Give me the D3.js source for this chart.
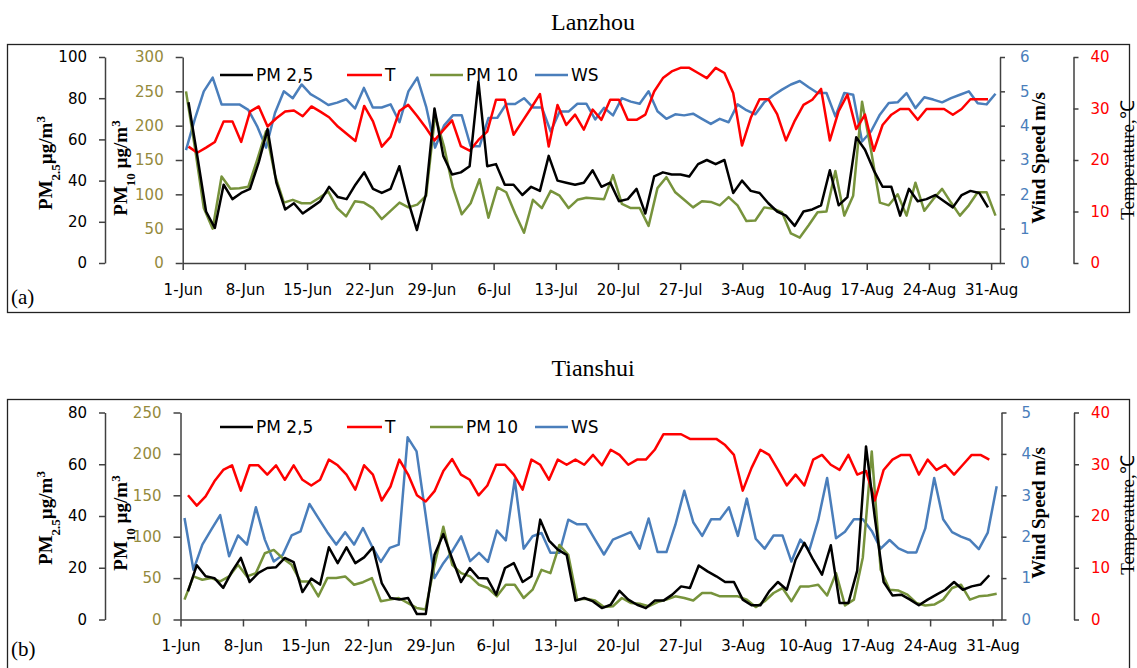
<!DOCTYPE html>
<html>
<head>
<meta charset="utf-8">
<script src="https://d3js.org/d3.v7.min.js"></script>
<style>
  body { margin: 0; background: #fff; }
  svg { display: block; }
</style>
</head>
<body>
<svg width="1137" height="668"></svg>
<script>
// ---- data (daily, 1 Jun - 31 Aug) ----
var tickLabels = ["1-Jun","8-Jun","15-Jun","22-Jun","29-Jun","6-Jul","13-Jul","20-Jul","27-Jul","3-Aug","10-Aug","17-Aug","24-Aug","31-Aug"];

var lanzhouPM25 = [78,52,25,17,38,31,34,36,49,65, 39,26,29,24,27,30,37,32,31,38, 44,36,34,36,47,30,16,33,75,52,
  43,44,47,88,47,48,38,38,33,37, 35,52,40,39,38,39,45,37,39,30, 31,36,24,42,44,43,43,42,48,50,
  48,50,34,40,35,34,29,25,23,18, 25,26,28,45,28,32,61,55,45,37, 37,23,36,30,31,33,30,27,33,35, 34,27];
var lanzhouT = [22.6,21.4,22.4,23.5,27.5,27.5,23.5,29.4,30.4,26.5, 28.1,29.4,29.6,28.5,30.4,29.4,28.3,26.5,25.1,23.7,
  30.5,27.5,22.6,24.5,29.5,30.7,28.6,26.3,23.8,25.8, 27.7,22.7,21.8,23.9,25.5,31.7,31.7,24.9,27.5,30.1,
  32.8,22.6,30.7,26.8,28.8,25.9,29.8,27.8,31.7,31.7, 27.8,27.8,28.8,33.3,35.9,37.2,37.9,37.9,36.9,35.9,
  37.9,36.9,33,22.8,28.2,31.8,31.8,28.9,23.8,27.6, 30.7,31.7,33.8,23.8,29.5,32.7,26,28.8,21.8,26.8,
  28.8,29.9,29.9,27.8,29.9,29.9,29.9,28.8,29.9,31.8, 31.8,31.8];
var lanzhouPM10 = [250,168,80,50,126,108,109,111,150,192, 128,88,92,87,87,95,104,80,68,90, 88,80,64,76,88,81,85,98,215,170,
  110,71,87,122,66,110,103,72,44,92, 80,105,98,80,92,95,94,93,128,86, 80,80,54,109,125,103,92,81,90,89,
  84,96,84,61,62,81,79,74,43,37, 55,74,75,134,69,98,235,165,88,84, 100,69,117,76,93,108,88,69,84,103, 103,69];
var lanzhouWS = [3.29,4.2,5.0,5.4,4.62,4.62,4.62,4.46,3.98,3.36, 4.37,5.0,4.8,5.2,4.92,4.77,4.6,4.67,4.77,4.5,
  5.1,4.53,4.53,4.62,4.1,5.0,5.4,4.55,3.36,4.0, 4.3,4.3,3.4,3.4,4.22,4.23,4.63,4.63,4.8,4.53,
  4.53,3.83,4.41,4.41,4.64,4.64,4.18,4.52,4.3,4.8, 4.7,4.64,5.0,4.42,4.2,4.33,4.3,4.35,4.2,4.05,
  4.2,4.1,4.62,4.45,4.33,4.68,4.88,5.05,5.2,5.3, 5.12,4.95,4.95,4.27,4.95,4.9,3.54,3.83,4.32,4.66,
  4.68,4.95,4.51,4.83,4.76,4.68,4.8,4.9,5.0,4.65, 4.62,4.93];

var tianshuiPM25 = [10.9,21,16.7,16,12.2,18.6,23.8,14.5,18,19.9, 20.2,23.8,22.2,10.6,15.8,13.5,27.9,21.8,27.9,21.8,
  24,27.9,14.1,8.3,7.7,8.3,2.1,2.1,25,33, 23.5,14.5,19.9,16,15.8,9.6,19.9,21.8,14.5,16.7,
  38.6,30.5,27,25,7.3,8.3,7,4.4,5.7,11.1, 7.7,5.7,4.4,7.3,7.3,9.6,12.8,12.2,20.9,18.6,
  16.7,14.5,14.5,7.7,5.5,5.5,10.9,14.5,11.5,23.1, 29.6,23.1,17.3,28.7,6.4,6.4,18.9,66.9,39.4,14.5,
  9.3,9.6,7.7,5.5,7.7,9.6,11.5,14.5,11.5,12.8, 13.5,17.1];
var tianshuiT = [24,22,23.8,26.7,28.9,29.8,24.9,29.8,29.8,28, 29.8,27,29.8,27,25.9,27,30.9,29.8,28,25.1,
  29.8,28,23,25.7,30.9,28,24,22.8,24.8,28.7, 31,28,27,24,25.9,29.9,29.9,28,25.1,30.9,
  29.9,27,30.9,29.9,30.9,29.9,31.8,29.8,32.8,31.8, 29.9,30.9,30.9,32.8,35.8,35.8,35.8,34.9,34.9,34.9,
  34.9,33.7,31.8,24.9,29.3,32.8,31.8,28.9,25.9,28, 25.9,30.9,31.8,29.9,28.9,31.8,28,28.7,23,28.9,
  30.9,31.8,31.8,28,30.9,28.9,29.9,28,29.9,31.8, 31.8,30.9];
var tianshuiPM10 = [24,52,48,50,46,52,66,52,56,80, 84,74,66,46,46,28,50,50,52,42, 45,50,22,24,26,20,14,12,65,112,
  66,56,52,42,38,28,42,42,26,36, 60,56,90,78,24,25,23,15,16,26, 20,19,16,21,24,28,26,23,32,32,
  28,28,28,24,15,22,32,38,22,40, 40,42,29,56,17,24,75,203,60,36, 35,30,20,17,18,24,38,42,24,28, 29,31];
var tianshuiWS = [2.45,1.2,1.81,2.17,2.52,1.53,2.03,1.81,2.71,1.93, 1.4,1.56,2.03,2.13,2.79,2.45,2.11,1.81,2.11,1.81,
  2.21,1.77,1.39,1.73,1.81,4.4,4.06,2.55,1.0,1.36, 1.65,2.01,1.41,1.61,1.39,2.15,1.91,3.38,1.71,2.01,
  2.09,1.61,1.61,2.41,2.3,2.3,1.93,1.57,1.93,2.02, 2.11,1.71,2.44,1.63,1.63,2.29,3.11,2.35,2.02,2.42,
  2.42,2.71,2.02,2.92,1.95,1.71,2.03,2.03,1.4,1.93, 1.67,2.4,3.42,1.96,2.12,2.42,2.42,2.14,1.71,1.92,
  1.72,1.62,1.62,2.2,3.42,2.42,2.11,2.0,1.92,1.7, 2.1,3.22];

// ---- styling / layout ----
var sans = "'DejaVu Sans', sans-serif";
var serif = "'Liberation Serif', 'Times New Roman', serif";
var axisColor = "#404040";
var colors = { pm25: "#000000", t: "#ff0000", pm10: "#77933c", ws: "#4a7ebb" };
var pm10TickColor = "#948a3c";

var legendItems = [
  { key: "pm25", name: "PM 2,5", x1: 220, x2: 253 },
  { key: "t", name: "T", x1: 347, x2: 382 },
  { key: "pm10", name: "PM 10", x1: 430, x2: 463 },
  { key: "ws", name: "WS", x1: 535, x2: 568 }
];

var panels = [
  { title: "Lanzhou", titleY: 30, tag: "(a)", tagY: 304, box: [7.5, 44.5, 1122, 268],
    top: 57, bottom: 263, axisRange: [182.7, 1000], rangeBR: [188.5, 988], rangeGB: [186, 995.5],
    ax25: 105, ax10: 182.7, axWS: 1000, axT: 1073.5, max25: 100, max10: 300, maxWS: 6,
    legendY: 75, midY: 160,
    pm25: lanzhouPM25, t: lanzhouT, pm10: lanzhouPM10, ws: lanzhouWS },
  { title: "Tianshui", titleY: 376, tag: "(b)", tagY: 656, box: [7.5, 399.5, 1122, 275],
    top: 412.5, bottom: 619.5, axisRange: [180.5, 1001.5], rangeBR: [188, 989.3], rangeGB: [184.5, 996.7],
    ax25: 105, ax10: 180.5, axWS: 1001.5, axT: 1074, max25: 80, max10: 250, maxWS: 5,
    legendY: 427, midY: 515,
    pm25: tianshuiPM25, t: tianshuiT, pm10: tianshuiPM10, ws: tianshuiWS }
];

var svg = d3.select("svg");
svg.append("rect").attr("width", 1137).attr("height", 668).attr("fill", "#fff");

function styleAxis(a, color, size) {
  a.select(".domain").attr("stroke", axisColor).attr("stroke-width", 1.5);
  a.selectAll(".tick line").attr("stroke", axisColor).attr("stroke-width", 1.5);
  a.selectAll(".tick text").attr("fill", color)
    .style("font-family", sans).style("font-size", size || "15px");
}

function vTitle(g, x, y, parts, weight) {
  var t = g.append("text")
    .attr("transform", "translate(" + x + "," + y + ") rotate(-90)")
    .attr("text-anchor", "middle")
    .style("font-family", serif).style("font-size", "19px").style("font-weight", weight);
  parts.forEach(function(p) {
    var s = t.append("tspan").text(p.text);
    if (p.shift) s.attr("baseline-shift", p.shift).style("font-size", "13px");
  });
}

var intFmt = d3.format("d");

panels.forEach(function(p) {
  var g = svg.append("g");

  g.append("rect").attr("x", p.box[0]).attr("y", p.box[1])
    .attr("width", p.box[2]).attr("height", p.box[3])
    .attr("fill", "none").attr("stroke", "#222").attr("stroke-width", 1.3);

  g.append("text").attr("x", 593).attr("y", p.titleY).attr("text-anchor", "middle")
    .style("font-family", serif).style("font-size", "24px").text(p.title);
  g.append("text").attr("x", 11).attr("y", p.tagY)
    .style("font-family", serif).style("font-size", "21px").text(p.tag);

  var y25 = d3.scaleLinear().domain([0, p.max25]).range([p.bottom, p.top]);
  var y10 = d3.scaleLinear().domain([0, p.max10]).range([p.bottom, p.top]);
  var yWS = d3.scaleLinear().domain([0, p.maxWS]).range([p.bottom, p.top]);
  var yT = d3.scaleLinear().domain([0, 40]).range([p.bottom, p.top]);
  var xAxisScale = d3.scaleLinear().domain([0, 92]).range(p.axisRange);
  var xBR = d3.scaleLinear().domain([0, 91]).range(p.rangeBR);
  var xGB = d3.scaleLinear().domain([0, 91]).range(p.rangeGB);

  // axes
  var a;
  a = g.append("g").attr("transform", "translate(" + p.ax25 + ",0)")
    .call(d3.axisLeft(y25).tickValues(d3.range(0, p.max25 + 1, 20)).tickFormat(intFmt)
      .tickSize(6).tickSizeOuter(0).tickPadding(12));
  styleAxis(a, "#000");
  a = g.append("g").attr("transform", "translate(" + p.ax10 + ",0)")
    .call(d3.axisLeft(y10).tickValues(d3.range(0, p.max10 + 1, 50)).tickFormat(intFmt)
      .tickSize(7).tickSizeOuter(0).tickPadding(12));
  styleAxis(a, pm10TickColor);
  a = g.append("g").attr("transform", "translate(" + p.axWS + ",0)")
    .call(d3.axisRight(yWS).tickValues(d3.range(0, p.maxWS + 1, 1)).tickFormat(intFmt)
      .tickSize(5).tickSizeOuter(0).tickPadding(15));
  styleAxis(a, colors.ws);
  a = g.append("g").attr("transform", "translate(" + p.axT + ",0)")
    .call(d3.axisRight(yT).tickValues(d3.range(0, 41, 10)).tickFormat(intFmt)
      .tickSize(5).tickSizeOuter(0).tickPadding(12));
  styleAxis(a, colors.t);
  a = g.append("g").attr("transform", "translate(0," + p.bottom + ")")
    .call(d3.axisBottom(xAxisScale).tickValues(d3.range(0, 92, 7))
      .tickFormat(function(d, i) { return tickLabels[i]; })
      .tickSize(7).tickSizeOuter(0).tickPadding(14));
  styleAxis(a, "#000");

  // axis titles
  vTitle(g, 52, p.midY + 3, [{ text: "PM" }, { text: "2.5", shift: "sub" }, { text: "\u00b5g/m" }, { text: "3", shift: "super" }], "bold");
  vTitle(g, 127, p.midY + 8, [{ text: "PM" }, { text: "10", shift: "sub" }, { text: "  \u00b5g/m" }, { text: "3", shift: "super" }], "bold");
  vTitle(g, 1045, p.midY - 2, [{ text: "Wind Speed m/s" }], "bold");
  vTitle(g, 1134, p.midY, [{ text: "Temperature,\u2103" }], "normal");

  // series lines
  var series = [
    { key: "ws", vals: p.ws, x: xGB, y: yWS },
    { key: "pm10", vals: p.pm10, x: xGB, y: y10 },
    { key: "t", vals: p.t, x: xBR, y: yT },
    { key: "pm25", vals: p.pm25, x: xBR, y: y25 }
  ];
  series.forEach(function(s) {
    var line = d3.line()
      .defined(function(d) { return d != null; })
      .x(function(d, i) { return s.x(i); })
      .y(function(d) { return s.y(d); });
    g.append("path").datum(s.vals)
      .attr("fill", "none").attr("stroke", colors[s.key])
      .attr("stroke-width", 2.5).attr("stroke-linejoin", "round")
      .attr("d", line);
  });

  // legend
  var lg = g.append("g");
  legendItems.forEach(function(it) {
    lg.append("line").attr("x1", it.x1).attr("x2", it.x2)
      .attr("y1", p.legendY).attr("y2", p.legendY)
      .attr("stroke", colors[it.key]).attr("stroke-width", 2.5);
    lg.append("text").attr("x", it.x2 + 3).attr("y", p.legendY + 6)
      .style("font-family", sans).style("font-size", "17px").text(it.name);
  });
});
</script>
</body>
</html>
